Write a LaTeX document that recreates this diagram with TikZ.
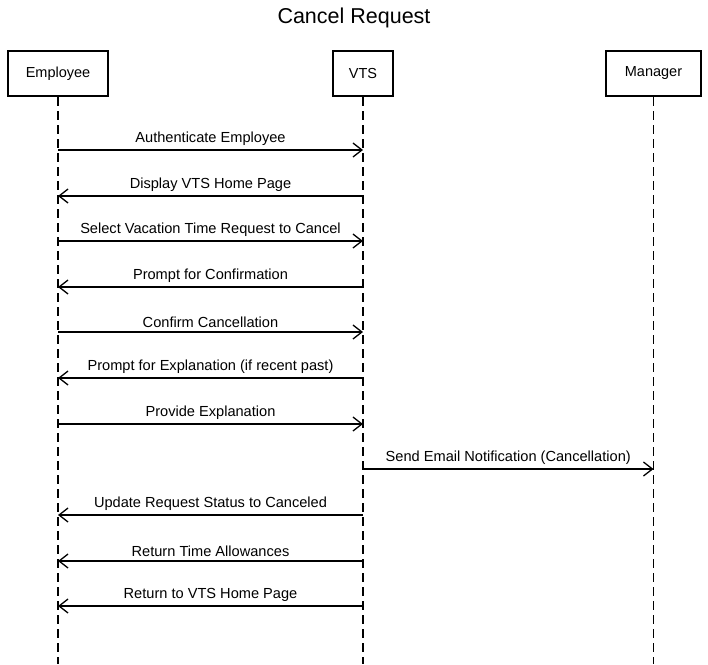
\documentclass[tikz,border=0pt]{standalone}
\usepackage{fontspec}
\setmainfont{Liberation Sans}
\usetikzlibrary{arrows.meta}

\begin{document}
\begin{tikzpicture}[x=1pt,y=-1pt,
  actor/.style={draw, line width=2.6pt, minimum height=45pt, inner sep=0pt,
    font=\fontsize{14.5}{16}\selectfont},
  lifeline/.style={line width=1.3pt, dash pattern=on 9pt off 5pt},
  msg/.style={line width=1.3pt, -{Straight Barb[length=9pt,width=14pt,line width=1.3pt]}},
  msglabel/.style={above=1.5pt, inner sep=2pt, font=\fontsize{14.6}{16}\selectfont}]
\useasboundingbox (0,0) rectangle (708,664);
% title
\node[font=\fontsize{21.5}{24}\selectfont] (title) at (354,18) {Cancel Request};
% actors
\node[actor, minimum width=100pt] (emp) at (58,73.5) {Employee};
\node[actor, minimum width=60pt] (vts) at (363,73.5) {VTS};
\node[actor, minimum width=95pt] (mgr) at (653.5,73.5) {Manager};
% lifelines
\foreach \a in {emp,vts,mgr}
  \draw[lifeline] (\a.south) -- (\a.south |- 0,664);
% messages
\foreach \y/\a/\b/\txt in {
  150/emp/vts/{Authenticate Employee},
  196/vts/emp/{Display VTS Home Page},
  241/emp/vts/{Select Vacation Time Request to Cancel},
  287/vts/emp/{Prompt for Confirmation},
  332/emp/vts/{Confirm Cancellation},
  378/vts/emp/{Prompt for Explanation (if recent past)},
  424/emp/vts/{Provide Explanation},
  469/vts/mgr/{Send Email Notification (Cancellation)},
  515/vts/emp/{Update Request Status to Canceled},
  561/vts/emp/{Return Time Allowances},
  606/vts/emp/{Return to VTS Home Page}}
{
  \coordinate (s\y) at (\a.south |- 0,\y);
  \coordinate (t\y) at (\b.south |- 0,\y);
  \draw[msg] (s\y) -- (t\y) node[midway, msglabel] {\txt};
}
\end{tikzpicture}
\end{document}
